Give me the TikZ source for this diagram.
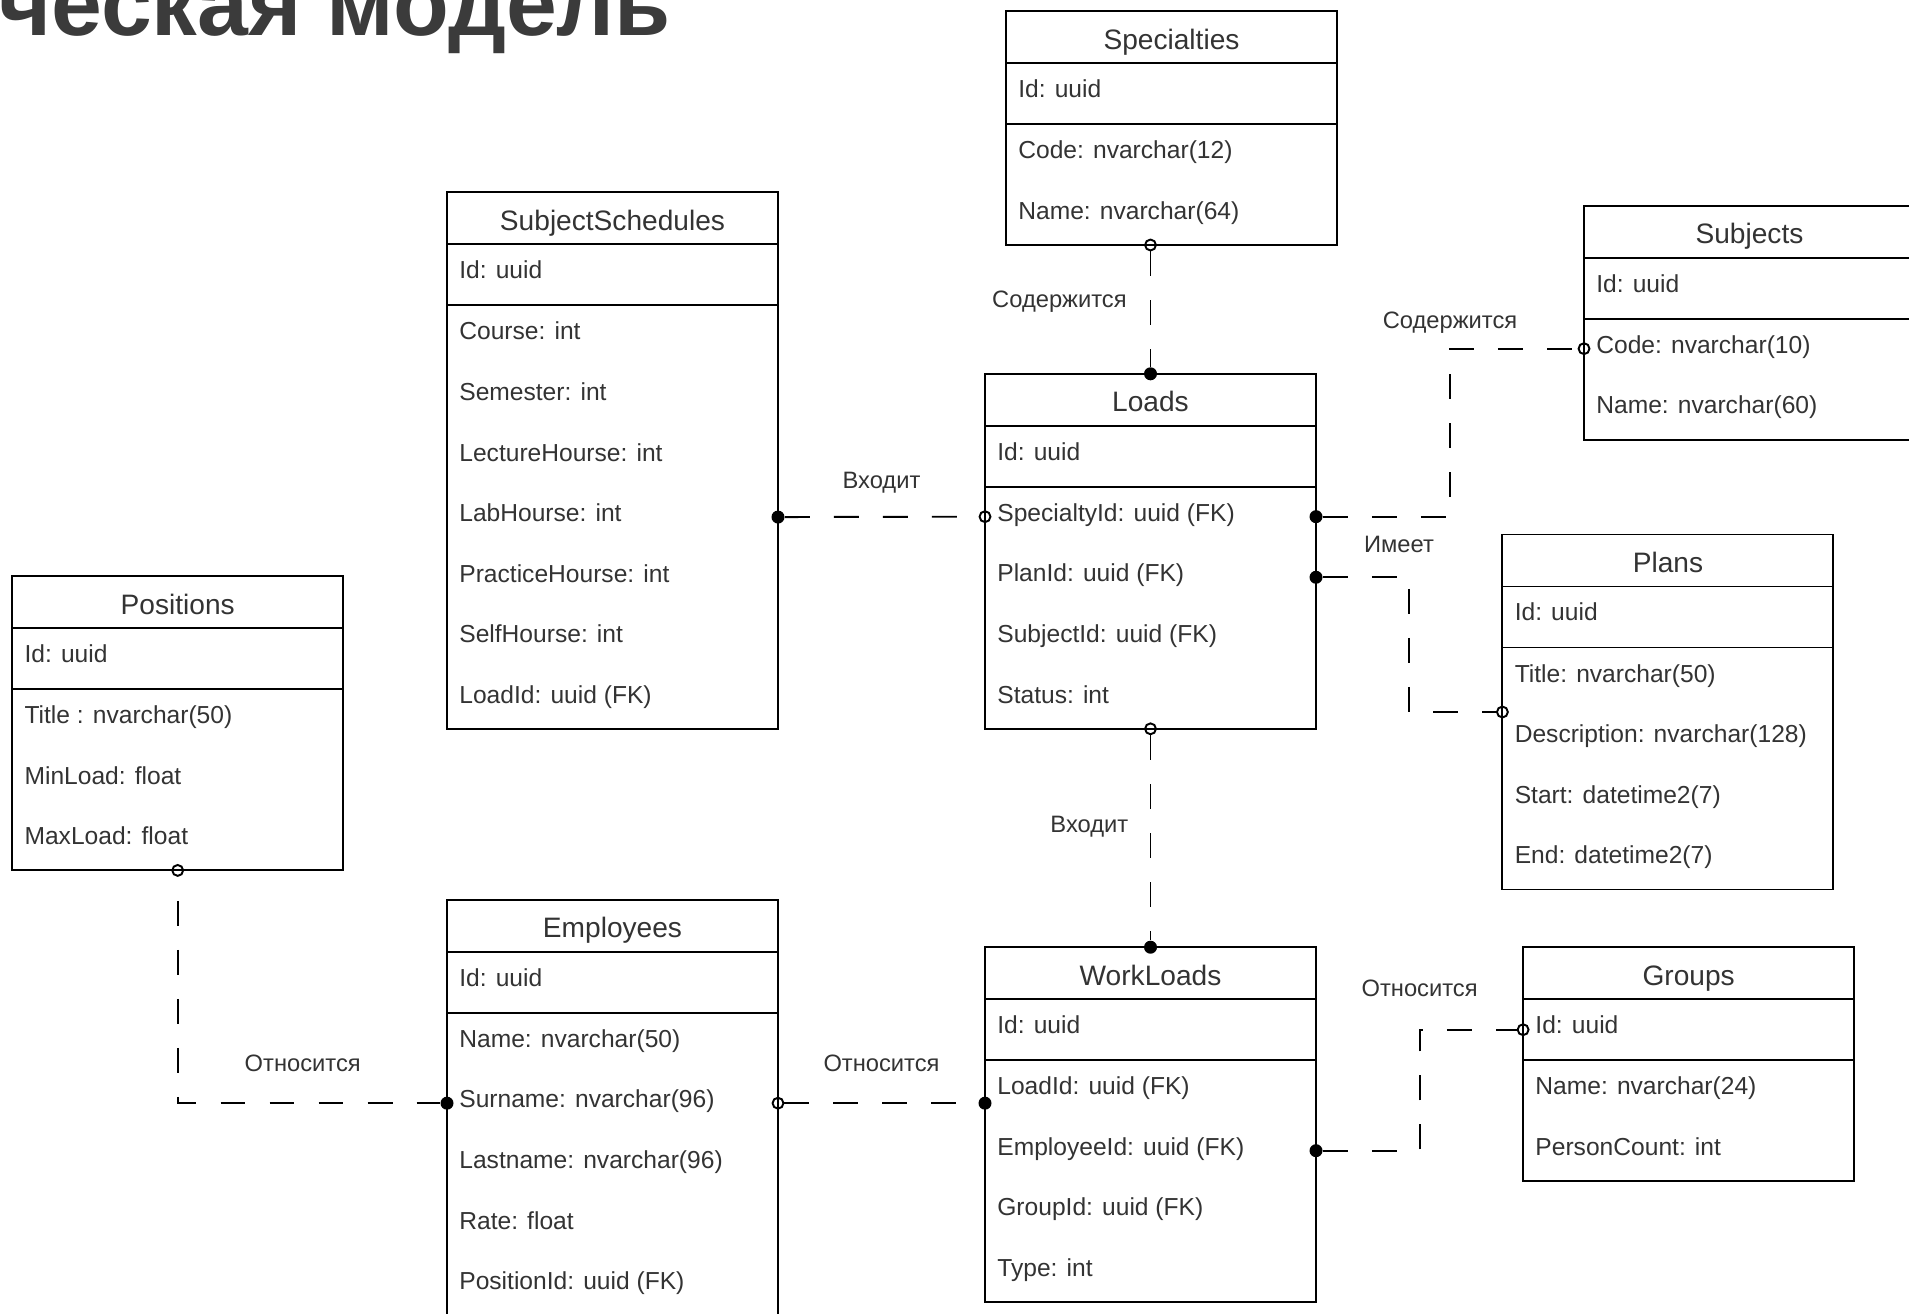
\documentclass[tikz,border=0pt]{standalone}
\usepackage{fontspec}
\setmainfont{Liberation Sans}
\usepackage{tikz}
\usetikzlibrary{calc, positioning}
\newdimen\px \px=0.5692pt
\definecolor{txt}{HTML}{333333}
\definecolor{head}{HTML}{3B3B3B}
\tikzstyle{tblhead}=[draw, line width=1.1pt, anchor=north west, inner sep=0pt, outer sep=0pt, minimum width=331\px, minimum height=52\px, text height=13.8pt, text depth=0pt, font=\fontsize{16}{19}\selectfont, text=txt]
\tikzstyle{tblkey}=[draw, line width=1.1pt, inner sep=0pt, outer sep=0pt, minimum width=331\px, minimum height=61\px]
\tikzstyle{tblbody}=[draw, line width=1.1pt, inner sep=0pt, outer sep=0pt, minimum width=331\px]
\tikzstyle{fld}=[anchor=base west, inner sep=0pt, font=\fontsize{14}{17}\selectfont, text=txt]
\tikzstyle{lbl}=[inner sep=0pt, font=\fontsize{13.5}{16}\selectfont, text=txt]
\tikzstyle{dotend}=[circle, fill=black, inner sep=0pt, minimum size=7.4pt]
\tikzstyle{ringend}=[circle, draw, line width=1.1pt, inner sep=0pt, minimum size=6.2pt]
\tikzstyle{rel}=[line width=1.1pt, dash pattern=on 14.2pt off 13.7pt]

\begin{document}
\begin{tikzpicture}[x=0.5692pt, y=-0.5692pt]
\useasboundingbox (0,0) rectangle (1909,1313);
% the heading
\node[anchor=base west, inner sep=0pt, font=\fontsize{52}{60}\selectfont\bfseries, text=head] (hdr) at (-2,35) {ческая модель};
%
% the tables
\node[tblhead] (SpecT) at (1006,11) {Specialties};
\node[tblkey, below=0pt of SpecT] (SpecK) {};
\node[tblbody, below=0pt of SpecK, minimum height=121\px] (SpecF) {};
\node[fld] (SpecI) at ($(SpecK.north west)+(12,34.3)$) {Id: uuid};
\foreach \f [count=\i] in {Code: nvarchar(12), Name: nvarchar(64)}
  \node[fld] (Spec\i) at ($(SpecF.north west)+(12,34.5+60.6*\i-60.6)$) {\f};
%
\node[tblhead] (SST) at (447,192.4) {SubjectSchedules};
\node[tblkey, below=0pt of SST] (SSK) {};
\node[tblbody, below=0pt of SSK, minimum height=423.5\px] (SSF) {};
\node[fld] (SSI) at ($(SSK.north west)+(12,34.3)$) {Id: uuid};
\foreach \f [count=\i] in {Course: int, Semester: int, LectureHourse: int, LabHourse: int, PracticeHourse: int, SelfHourse: int, LoadId: uuid (FK)}
  \node[fld] (SS\i) at ($(SSF.north west)+(12,34.5+60.6*\i-60.6)$) {\f};
%
\node[tblhead] (LoadsT) at (985,373.8) {Loads};
\node[tblkey, below=0pt of LoadsT] (LoadsK) {};
\node[tblbody, below=0pt of LoadsK, minimum height=242\px] (LoadsF) {};
\node[fld] (LoadsI) at ($(LoadsK.north west)+(12,34.3)$) {Id: uuid};
\foreach \f [count=\i] in {SpecialtyId: uuid (FK), PlanId: uuid (FK), SubjectId: uuid (FK), Status: int}
  \node[fld] (Loads\i) at ($(LoadsF.north west)+(12,34.5+60.6*\i-60.6)$) {\f};
%
\node[tblhead] (SubjT) at (1584,205.8) {Subjects};
\node[tblkey, below=0pt of SubjT] (SubjK) {};
\node[tblbody, below=0pt of SubjK, minimum height=121\px] (SubjF) {};
\node[fld] (SubjI) at ($(SubjK.north west)+(12,34.3)$) {Id: uuid};
\foreach \f [count=\i] in {Code: nvarchar(10), Name: nvarchar(60)}
  \node[fld] (Subj\i) at ($(SubjF.north west)+(12,34.5+60.6*\i-60.6)$) {\f};
%
\node[tblhead] (PlansT) at (1502.4,534.5) {Plans};
\node[tblkey, below=0pt of PlansT] (PlansK) {};
\node[tblbody, below=0pt of PlansK, minimum height=242\px] (PlansF) {};
\node[fld] (PlansI) at ($(PlansK.north west)+(12,34.3)$) {Id: uuid};
\foreach \f [count=\i] in {Title: nvarchar(50), Description: nvarchar(128), Start: datetime2(7), End: datetime2(7)}
  \node[fld] (Plans\i) at ($(PlansF.north west)+(12,34.5+60.6*\i-60.6)$) {\f};
%
\node[tblhead] (PosT) at (12.2,575.9) {Positions};
\node[tblkey, below=0pt of PosT] (PosK) {};
\node[tblbody, below=0pt of PosK, minimum height=181.5\px] (PosF) {};
\node[fld] (PosI) at ($(PosK.north west)+(12,34.3)$) {Id: uuid};
\foreach \f [count=\i] in {Title : nvarchar(50), MinLoad: float, MaxLoad: float}
  \node[fld] (Pos\i) at ($(PosF.north west)+(12,34.5+60.6*\i-60.6)$) {\f};
%
\node[tblhead] (EmpT) at (447,899.7) {Employees};
\node[tblkey, below=0pt of EmpT] (EmpK) {};
\node[tblbody, below=0pt of EmpK, minimum height=302.5\px] (EmpF) {};
\node[fld] (EmpI) at ($(EmpK.north west)+(12,34.3)$) {Id: uuid};
\foreach \f [count=\i] in {Name: nvarchar(50), Surname: nvarchar(96), Lastname: nvarchar(96), Rate: float, PositionId: uuid (FK)}
  \node[fld] (Emp\i) at ($(EmpF.north west)+(12,34.5+60.6*\i-60.6)$) {\f};
%
\node[tblhead] (WorkT) at (985,947.2) {WorkLoads};
\node[tblkey, below=0pt of WorkT] (WorkK) {};
\node[tblbody, below=0pt of WorkK, minimum height=242\px] (WorkF) {};
\node[fld] (WorkI) at ($(WorkK.north west)+(12,34.3)$) {Id: uuid};
\foreach \f [count=\i] in {LoadId: uuid (FK), EmployeeId: uuid (FK), GroupId: uuid (FK), Type: int}
  \node[fld] (Work\i) at ($(WorkF.north west)+(12,34.5+60.6*\i-60.6)$) {\f};
%
\node[tblhead] (GroupsT) at (1523.1,947.2) {Groups};
\node[tblkey, below=0pt of GroupsT] (GroupsK) {};
\node[tblbody, below=0pt of GroupsK, minimum height=121\px] (GroupsF) {};
\node[fld] (GroupsI) at ($(GroupsK.north west)+(12,34.3)$) {Id: uuid};
\foreach \f [count=\i] in {Name: nvarchar(24), PersonCount: int}
  \node[fld] (Groups\i) at ($(GroupsF.north west)+(12,34.5+60.6*\i-60.6)$) {\f};
%
% the ends of the relations
\node[ringend] (r1) at (LoadsT.north |- SpecF.south) {};
\node[dotend] (d1) at (LoadsT.north) {};
\node[dotend] (d2) at (SSF.east |- SS4.mid) {};
\node[ringend] (r2) at (LoadsF.west |- Loads1.mid) {};
\node[dotend] (d3) at (LoadsF.east |- Loads1.mid) {};
\node[ringend] (r3) at (SubjF.west |- Subj1.mid) {};
\node[dotend] (d4) at (LoadsF.east |- Loads2.mid) {};
\node[ringend] (r4) at ($(PlansT.north west)!.5!(PlansF.south west)$) {};
\node[ringend] (r5) at (LoadsF.south) {};
\node[dotend] (d5) at (WorkT.north) {};
\node[ringend] (r6) at (PosF.south) {};
\node[dotend] (d6) at (EmpF.west |- Emp2.mid) {};
\node[ringend] (r7) at (EmpF.east |- Emp2.mid) {};
\node[dotend] (d7) at (WorkF.west |- Emp2.mid) {};
\node[dotend] (d8) at (WorkF.east |- Work2.mid) {};
\node[ringend] (r8) at (GroupsK.west) {};
%
% the relations
\draw[rel] (r1) -- (d1);
\draw[rel] (d2) -- (r2);
\draw[rel] (d3) -| ($(d3)!.5!(r3)$) |- (r3);
\draw[rel] (d4) -| ($(d4)!.5!(r4)$) |- (r4);
\draw[rel] (r5) -- (d5);
\draw[rel, dash phase=14.2pt] (r6) |- (d6);
\draw[rel] (r7) -- (d7);
\draw[rel] (d8) -| ($(d8)!.5!(r8)$) |- (r8);
%
% the labels
\node[lbl, anchor=east] (l1) at (1127,302) {Содержится};
\node[lbl] (l2) at (881.5,483) {Входит};
\node[lbl] (l3) at (1450,322.6) {Содержится};
\node[lbl] (l4) at (1399,544) {Имеет};
\node[lbl, anchor=east] (l5) at (1128.6,826.7) {Входит};
\node[lbl] (l6) at (302.7,1063) {Относится};
\node[lbl] (l7) at (881.5,1063) {Относится};
\node[lbl] (l8) at (1419.6,988.6) {Относится};
\end{tikzpicture}
\end{document}
